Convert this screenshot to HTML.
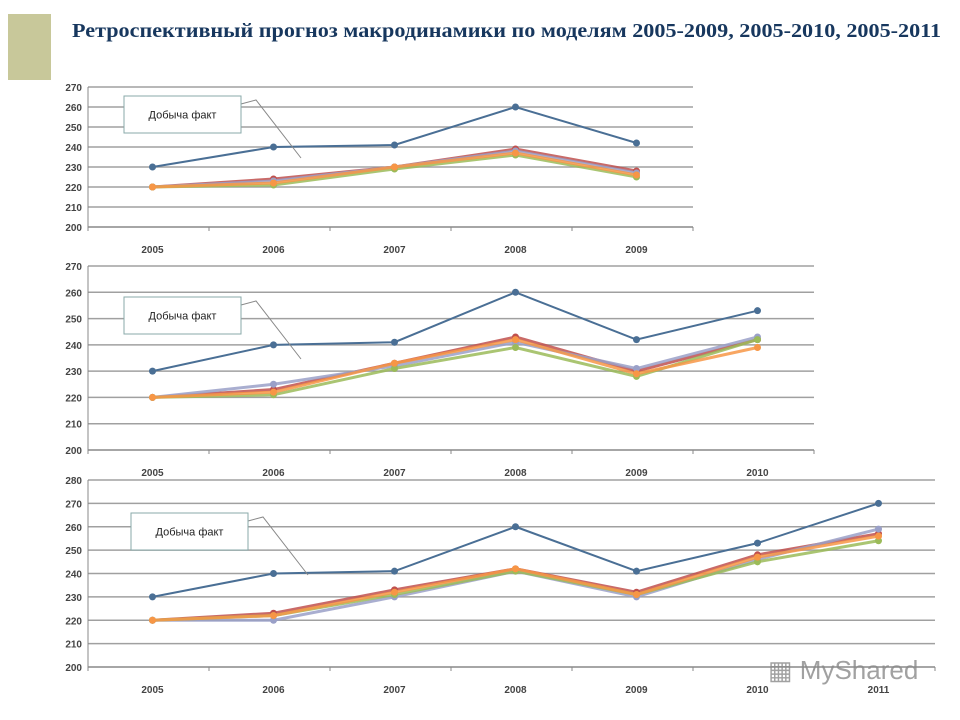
<!DOCTYPE html>
<html><head><meta charset="utf-8">
<style>
body{margin:0;background:#fff;}
#wrap{position:relative;width:960px;height:720px;overflow:hidden;background:#fff;}
#title{position:absolute;left:72px;top:21px;font-family:"Liberation Serif",serif;font-weight:bold;font-size:19.5px;color:#17375e;white-space:nowrap;transform:scaleX(1.136);transform-origin:left top;}
#sq{position:absolute;left:8px;top:14px;width:43px;height:66px;background:#c8c89a;}
svg{position:absolute;left:0;top:0;}
</style></head><body>
<div id="wrap">
<div id="sq"></div>
<div id="title">Ретроспективный прогноз макродинамики по моделям 2005-2009, 2005-2010, 2005-2011</div>
<svg id="svg" width="960" height="720"></svg>
<div style="position:absolute;left:768px;top:655px;font-family:'Liberation Sans',sans-serif;font-size:26px;color:#8a8a8a;opacity:0.8">▦ MyShared</div>
</div>
<script>
// Chart 1 data
const cats1=["2005","2006","2007","2008","2009"];
const fact1=[230,240,241,260,242];
const f1a=[220,224,230,239,228];
const f1b=[220,223,230,238,227];
const f1c=[220,221,229,236,225];
const f1d=[220,222,230,237,226];
// Chart 2 data
const cats2=["2005","2006","2007","2008","2009","2010"];
const fact2=[230,240,241,260,242,253];
const f2a=[220,223,233,243,230,242];
const f2b=[220,225,232,241,231,243];
const f2c=[220,221,231,239,228,242];
const f2d=[220,222,233,242,229,239];
// Chart 3 data
const cats3=["2005","2006","2007","2008","2009","2010","2011"];
const fact3=[230,240,241,260,241,253,270];
const f3a=[220,223,233,242,232,248,257];
const f3b=[220,220,230,241,230,246,259];
const f3c=[220,222,231,241,231,245,254];
const f3d=[220,222,232,242,231,247,256];
const ticks1=[200,210,220,230,240,250,260,270];
const ticks3=[200,210,220,230,240,250,260,270,280];

const NS="http://www.w3.org/2000/svg";
const svg=document.getElementById('svg');
function mk(tag,attrs,parent){const e=document.createElementNS(NS,tag);for(const k in attrs)e.setAttribute(k,attrs[k]);(parent||svg).appendChild(e);return e;}
const cols=["#c0504d","#9aa0c8","#9bbb59","#f79646"];

function chart(cfg){
  const g=mk('g',{});
  
  
  const x0=88,band=121,n=cfg.cats.length,x1=x0+band*n+(cfg.extra||0);
  const ymin=cfg.ticks[0],ymax=cfg.ticks[cfg.ticks.length-1];
  const Y=v=>cfg.yb-(v-ymin)/(ymax-ymin)*(cfg.yb-cfg.yt);
  const X=i=>x0+band*i+band/2+4;
  cfg.ticks.forEach(t=>{
    const l=mk('line',{x1:x0,x2:x1,y1:Y(t),y2:Y(t),stroke:t==ymin?'#888':'#a0a0a0','stroke-width':1.5},g);
    
    
    const tx=mk('text',{x:x0-6,y:Y(t)+4,'text-anchor':'end','font-family':'Liberation Sans, sans-serif','font-size':10,'font-weight':'bold',fill:'#444'},g);
    tx.textContent=t;
    
    
  });
  mk('line',{x1:x0,x2:x0,y1:cfg.yt,y2:cfg.yb+4,stroke:'#888'},g);
  cfg.cats.forEach((c,i)=>{
    mk('line',{x1:x0+band*(i+1),x2:x0+band*(i+1),y1:cfg.yb,y2:cfg.yb+4,stroke:'#888'},g);
    const tx=mk('text',{x:X(i),y:cfg.yb+26,'text-anchor':'middle','font-family':'Liberation Sans, sans-serif','font-size':10,'font-weight':'bold',fill:'#444'},g);
    tx.textContent=c;
    
    
  });
  cfg.fc.forEach((s,k)=>{
    const p=mk('polyline',{points:s.map((v,i)=>X(i)+','+Y(v)).join(' '),fill:'none',stroke:cols[k],'stroke-width':3,opacity:0.85},g);
    
    
    s.forEach((v,i)=>{const m=mk('circle',{cx:X(i),cy:Y(v),r:3.5,fill:cols[k]},g);
      
      });
  });
  const p=mk('polyline',{points:cfg.fact.map((v,i)=>X(i)+','+Y(v)).join(' '),fill:'none',stroke:'#4a6f95','stroke-width':2},g);
  
  
  cfg.fact.forEach((v,i)=>{const m=mk('circle',{cx:X(i),cy:Y(v),r:3.5,fill:'#4a6f95'},g);
    
    });
  const L=cfg.leg;
  mk('polyline',{points:`${L.x+L.w},${L.y+8} ${L.x+L.w+15},${L.y+4} ${L.x+L.w+60},${L.y+L.h+25}`,fill:'none',stroke:'#888'},g);
  const r=mk('rect',{x:L.x,y:L.y,width:L.w,height:L.h,fill:'#fff',stroke:'#8aa'},g);
  
  
  const t=mk('text',{x:L.x+L.w/2,y:L.y+L.h/2+4,'text-anchor':'middle','font-family':'Liberation Sans, sans-serif','font-size':11,fill:'#222'},g);
  t.textContent='Добыча факт';
  
  
}
chart({name:'chart-2005-2009',cats:cats1,fact:fact1,fc:[f1a,f1b,f1c,f1d],ticks:ticks1,yt:87,yb:227,extra:0,leg:{x:124,y:96,w:117,h:37}});
chart({name:'chart-2005-2010',cats:cats2,fact:fact2,fc:[f2a,f2b,f2c,f2d],ticks:ticks1,yt:266,yb:450,extra:0,leg:{x:124,y:297,w:117,h:37}});
chart({name:'chart-2005-2011',cats:cats3,fact:fact3,fc:[f3a,f3b,f3c,f3d],ticks:ticks3,yt:480,yb:667,extra:0,leg:{x:131,y:513,w:117,h:37}});
</script>
</body></html>
